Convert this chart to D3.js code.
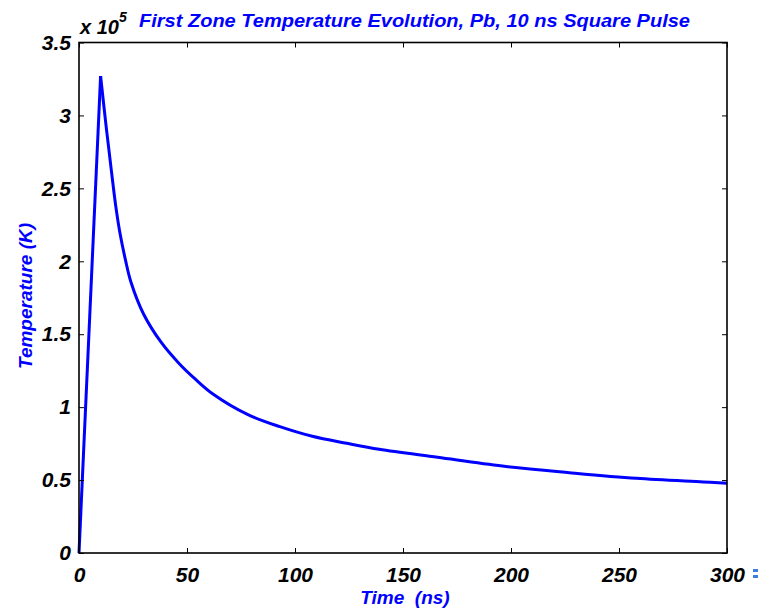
<!DOCTYPE html>
<html>
<head>
<meta charset="utf-8">
<script src="https://cdn.jsdelivr.net/npm/d3@7"></script>
<style>
  body { margin: 0; background: #fff; }
  text { font-family: "Liberation Sans", Arial, sans-serif; font-weight: bold; font-style: italic; }
</style>
</head>
<body>
<div id="chart"></div>
<script>
// data (time in ns, temperature in units of 1e5 K)
var timeNs = [0, 10, 12.6, 15, 17, 19, 21.5, 24, 30, 38, 46, 54, 62, 78, 93, 108, 124, 139, 166, 196, 227, 258, 289, 300];
var tempE5 = [0, 3.27, 2.92, 2.62, 2.38, 2.19, 2.01, 1.86, 1.635, 1.445, 1.305, 1.19, 1.09, 0.95, 0.866, 0.80, 0.752, 0.711, 0.656, 0.596, 0.551, 0.512, 0.487, 0.478];
var xTicks = [0, 50, 100, 150, 200, 250, 300];
var yTicks = [0, 0.5, 1, 1.5, 2, 2.5, 3, 3.5];

var W = 767, H = 608;
var margin = {top: 42.5, right: 40, bottom: 55, left: 79};
var width = W - margin.left - margin.right;
var height = H - margin.top - margin.bottom;

var svg = d3.select("#chart").append("svg")
    .attr("width", W)
    .attr("height", H);

var x = d3.scaleLinear().domain([0, 300]).range([0, width]);
var y = d3.scaleLinear().domain([0, 3.5]).range([height, 0]);

var g = svg.append("g")
    .attr("transform", "translate(" + margin.left + "," + margin.top + ")");

var points = timeNs.map(function(t, i) { return [t, tempE5[i]]; });

// rise (linear) and decay (smooth)
var lineLin = d3.line().x(d => x(d[0])).y(d => y(d[1]));
var lineSmooth = d3.line().x(d => x(d[0])).y(d => y(d[1])).curve(d3.curveCatmullRom.alpha(0.5));

g.append("path")
    .attr("d", lineLin(points.slice(0, 2)))
    .attr("fill", "none")
    .attr("stroke", "#0000ff")
    .attr("stroke-width", 3)
    .attr("stroke-linejoin", "round");

g.append("path")
    .attr("d", lineSmooth(points.slice(1)))
    .attr("fill", "none")
    .attr("stroke", "#0000ff")
    .attr("stroke-width", 3)
    .attr("stroke-linejoin", "round");

// axes with inward ticks on all sides
function styleAxis(sel) {
  sel.select(".domain").remove();
  sel.selectAll(".tick line").attr("stroke", "#000").attr("stroke-width", 1);
  sel.selectAll("text")
    .attr("fill", "#000")
    .style("font-size", "21px");
}

var xBottom = g.append("g")
    .attr("transform", "translate(0," + height + ")")
    .call(d3.axisBottom(x).tickValues(xTicks).tickSize(-5).tickPadding(10).tickFormat(d3.format("d")));
styleAxis(xBottom);
xBottom.selectAll("text").attr("dy", "0.9em");

var xTop = g.append("g")
    .call(d3.axisTop(x).tickValues(xTicks).tickSize(-5).tickFormat(""));
styleAxis(xTop);

var yLeft = g.append("g")
    .call(d3.axisLeft(y).tickValues(yTicks).tickSize(-5).tickPadding(8).tickFormat(d => d));
styleAxis(yLeft);

var yRight = g.append("g")
    .attr("transform", "translate(" + width + ",0)")
    .call(d3.axisRight(y).tickValues(yTicks).tickSize(-5).tickFormat(""));
styleAxis(yRight);

g.append("rect")
    .attr("width", width)
    .attr("height", height)
    .attr("fill", "none")
    .attr("stroke", "#000")
    .attr("stroke-width", 1.6);

// exponent label
var expo = svg.append("text")
    .attr("x", margin.left + 1)
    .attr("y", 34)
    .attr("fill", "#000")
    .style("font-size", "20px");
expo.append("tspan").text("x 10");
expo.append("tspan").attr("dy", -12).style("font-size", "14px").text("5");

// title
svg.append("text")
    .attr("x", 139)
    .attr("y", 27)
    .attr("fill", "#0000ff")
    .style("font-size", "18px")
    .attr("textLength", 551)
    .attr("lengthAdjust", "spacingAndGlyphs")
    .text("First Zone Temperature Evolution, Pb, 10 ns Square Pulse");

// axis titles
svg.append("text")
    .attr("x", 405)
    .attr("y", 604)
    .attr("text-anchor", "middle")
    .attr("fill", "#0000ff")
    .style("font-size", "19px")
    .style("white-space", "pre")
    .attr("xml:space", "preserve")
    .text("Time  (ns)");

svg.append("text")
    .attr("transform", "translate(32,296) rotate(-90)")
    .attr("text-anchor", "middle")
    .attr("fill", "#0000ff")
    .style("font-size", "19px")
    .text("Temperature (K)");

// small blue artefact at bottom right of the original image
svg.append("g").attr("fill", "#3b7de0")
  .selectAll("rect").data([569, 575]).join("rect")
    .attr("x", 753).attr("y", d => d)
    .attr("width", 5).attr("height", 3);
</script>
</body>
</html>
